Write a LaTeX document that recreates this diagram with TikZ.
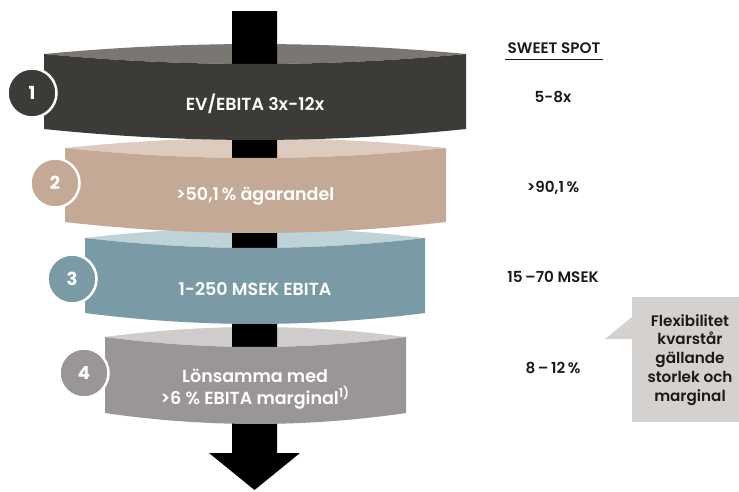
\documentclass[tikz,border=0pt]{standalone}
\usepackage{fontspec}
\setmainfont{Poppins SemiBold}
\newfontfamily\numfont{Poppins Bold}
\definecolor{bodyA}{HTML}{3D3B37}
\definecolor{lensA}{HTML}{7A7672}
\definecolor{bodyB}{HTML}{C4A996}
\definecolor{lensB}{HTML}{DCCBBE}
\definecolor{bodyC}{HTML}{7A9BA5}
\definecolor{lensC}{HTML}{BFD2D7}
\definecolor{bodyD}{HTML}{9A9695}
\definecolor{lensD}{HTML}{CFCDCB}
\definecolor{boxgray}{HTML}{D5D1CE}
\definecolor{ink}{HTML}{1A1A1A}
\tikzset{
  layertext/.style={text=white, font=\fontsize{17.5}{19}\selectfont, anchor=base, inner sep=0pt},
  sidetext/.style={text=ink, font=\fontsize{15.2}{17}\selectfont, anchor=base, inner sep=0pt},
  numcircle/.style={circle, draw=white, line width=2.5pt, minimum size=49pt, inner sep=0pt, text=white, font=\numfont\fontsize{18}{20}\selectfont}
}
% lens: xl xr ytop color  (rise 10 at the middle)
\newcommand{\mylens}[4]{%
  \fill[#4] (#1,#3) .. controls ({#1+(#2-#1)/3},#3-13.3) and ({#1+2*(#2-#1)/3},#3-13.3) .. (#2,#3)
    .. controls ({#1+2*(#2-#1)/3},#3+13.3) and ({#1+(#2-#1)/3},#3+13.3) .. (#1,#3) -- cycle;}
% body: xl xr ytop ybot color  (sag 10 at the middle)
\newcommand{\mybody}[5]{%
  \fill[#5] (#1,#3) .. controls ({#1+(#2-#1)/3},#3+13.3) and ({#1+2*(#2-#1)/3},#3+13.3) .. (#2,#3) -- (#2,#4)
    .. controls ({#1+2*(#2-#1)/3},#4+14.6) and ({#1+(#2-#1)/3},#4+14.6) .. (#1,#4) -- cycle;}
\begin{document}
\begin{tikzpicture}[x=1pt,y=-1pt]
\useasboundingbox (0,0) rectangle (739,491);
% lenses
\mylens{44}{466}{54}{lensA}
\mylens{65}{446}{148}{lensB}
\mylens{85}{425}{238}{lensC}
\mylens{105}{406}{337}{lensD}
% flow arrow
\fill[black] (232,11) -- (277,11) -- (277,453) -- (300,453) -- (254.5,490)
  -- (209,453) -- (232,453) -- cycle;
% bodies
\mybody{44}{466}{54}{129}{bodyA}
\mybody{65}{446}{148}{222}{bodyB}
\mybody{85}{425}{238}{313}{bodyC}
\mybody{105}{406}{337}{413}{bodyD}
% numbers
\node[numcircle, fill=bodyA] (n1) at (32,93) {1};
\node[numcircle, fill=bodyB] (n2) at (55,183) {2};
\node[numcircle, fill=bodyC] (n3) at (72,279) {3};
\node[numcircle, fill=bodyD] (n4) at (84,373) {4};
% layer texts
\node[layertext] (t1) at (255,110) {EV/EBITA 3x-12x};
\node[layertext] (t2) at (255,200) {>50,1\,\% ägarandel};
\node[layertext] (t3) at (255,295) {1-250 MSEK EBITA};
\node[layertext] (t4a) at (255,382) {Lönsamma med};
\node[layertext] (t4b) at (255,404) {>6 \% EBITA marginal\textsuperscript{1)}};
% sweet spot column
\node[sidetext] (ss) at (554,53) {SWEET SPOT};
\draw[ink, line width=1pt] (505,59.5) -- (603,59.5);
\node[sidetext] (s1) at (553,102) {5-8x};
\node[sidetext] (s2) at (553,192) {>90,1\,\%};
\node[sidetext] (s3) at (553,282) {15\,–70 MSEK};
\node[sidetext] (s4) at (553,373) {8\,–\,12\,\%};
% callout
\fill[boxgray] (632,297) rectangle (739,422);
\fill[boxgray] (632,317) -- (605,339) -- (632,339) -- cycle;
\node[sidetext, align=center, font=\fontsize{15.2}{18.8}\selectfont, anchor=north] (note) at (690,314)
  {Flexibilitet\\kvarstår\\gällande\\storlek och\\marginal};
\end{tikzpicture}
\end{document}
